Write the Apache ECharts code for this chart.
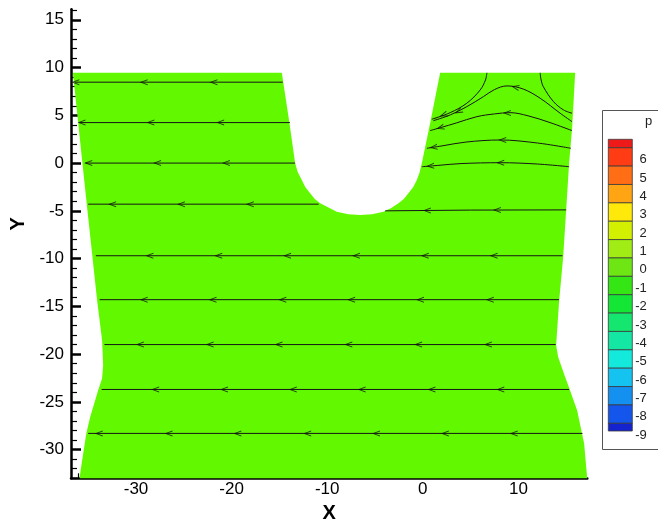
<!DOCTYPE html>
<html><head><meta charset="utf-8">
<script src="https://cdn.jsdelivr.net/npm/echarts@6/dist/echarts.min.js"></script>
<style>html,body{margin:0;padding:0;background:#fff}#c{width:658px;height:529px}</style>
</head><body><div id="c"></div>
<script>
// ---- axis ticks ----
const xMajorTicks = [-30, -20, -10, 0, 10];
const xMinorTicks = [-36,-34,-32,-28,-26,-24,-22,-18,-16,-14,-12,-8,-6,-4,-2,2,4,6,8,12,14,16];
const yMajorTicks = [-30, -25, -20, -15, -10, -5, 0, 5, 10, 15];
const yMinorTicks = [-33,-32,-31,-29,-28,-27,-26,-24,-23,-22,-21,-19,-18,-17,-16,-14,-13,-12,-11,-9,-8,-7,-6,-4,-3,-2,-1,1,2,3,4,6,7,8,9,11,12,13,14,16];

// ---- flow domain outline (x, y) ----
const fieldBoundary = [
  [-36.6, 9.45], [-14.75, 9.45], [-13.95, 4.17], [-13.36, 0], [-13.1, -0.9], [-12.66, -1.77],
  [-12.3, -2.5], [-11.79, -3.17], [-11.3, -3.75], [-10.74, -4.21], [-9.0, -5.09], [-7.8, -5.35],
  [-6.56, -5.44], [-5.3, -5.35], [-4.12, -5.09], [-3.3, -4.7], [-2.55, -4.21], [-2.0, -3.75],
  [-1.51, -3.17], [-1.0, -2.5], [-0.63, -1.77], [-0.35, -1.0], [-0.1, 0], [0.76, 4.17], [1.81, 9.45],
  [15.93, 9.45], [15.62, 3.78], [15.3, 0], [14.99, -4.9], [14.68, -9.8], [14.26, -14.35],
  [13.94, -19.07], [14.15, -20.3], [14.88, -22.4], [15.4, -23.8], [16.14, -25.9], [16.87, -29.35],
  [17.19, -33], [-35.9, -33], [-35.8, -32.2], [-35.2, -28.3], [-34.8, -26.6], [-33.97, -23.8],
  [-33.55, -22.54], [-33.44, -21.17], [-33.55, -18.55], [-34.07, -14.35], [-35.12, -4.6], [-35.64, 0.32]
];

// ---- streamlines ----
const streamRows = [
  [[-36.4, 8.47], [-14.65, 8.47]],
  [[-35.9, 4.24], [-13.9, 4.24]],
  [[-35.3, 0.0], [-13.36, 0.0]],
  [[-35.0, -4.3], [-10.9, -4.3]],
  [[-3.94, -5.0], [5, -4.92], [14.99, -4.9]],
  [[-34.2, -9.7], [14.6, -9.7]],
  [[-33.8, -14.3], [14.25, -14.3]],
  [[-33.3, -19.0], [13.9, -19.0]],
  [[-33.6, -23.7], [15.3, -23.7]],
  [[-35.0, -28.3], [16.7, -28.3]]
];
const streamCurves = [
  [[6.7, 9.45], [6.55, 8.7], [6.0, 7.66], [4.6, 6.27], [2.86, 5.28], [0.94, 4.59]],
  [[12.27, 9.45], [12.35, 8.8], [12.6, 8.0], [13.66, 6.44], [14.7, 5.57], [15.6, 5.22]],
  [[15.6, 4.34], [14.36, 5.22], [12.27, 6.79], [10.5, 7.75], [8.8, 8.08], [7.5, 7.7], [6.34, 6.96], [4.6, 5.91], [2.86, 5.04], [1.1, 4.44]],
  [[15.6, 3.4], [13.3, 4.24], [11.0, 4.95], [9.13, 5.28], [7.5, 5.15], [5.65, 4.86], [3.5, 4.2], [1.81, 3.7], [0.76, 3.4]],
  [[15.48, 1.55], [12.0, 2.1], [8.09, 2.42], [4.5, 2.2], [2.0, 1.8], [0.42, 1.55]],
  [[15.3, -0.38], [12.0, -0.1], [8.09, 0.04], [4.0, -0.05], [1.5, -0.25], [-0.1, -0.38]]
];
// arrowheads: x, y, rotation (deg)
const arrowHeads = [
  [-36.35, 8.47, 0], [-29.2, 8.47, 0], [-21.9, 8.47, 0],
  [-35.7, 4.24, 0], [-28.5, 4.24, 0], [-21.2, 4.24, 0],
  [-35.0, 0, 0], [-27.8, 0, 0], [-20.6, 0, 0],
  [-32.5, -4.3, 0], [-25.3, -4.3, 0], [-18.1, -4.3, 0],
  [0.42, -4.97, 0], [7.74, -4.91, 0],
  [-28.6, -9.7, 0], [-21.4, -9.7, 0], [-14.2, -9.7, 0], [-7.0, -9.7, 0], [0.2, -9.7, 0], [7.4, -9.7, 0],
  [-29.2, -14.3, 0], [-22.0, -14.3, 0], [-14.7, -14.3, 0], [-7.5, -14.3, 0], [-0.3, -14.3, 0], [7.0, -14.3, 0],
  [-29.6, -19.0, 0], [-22.3, -19.0, 0], [-15.1, -19.0, 0], [-7.8, -19.0, 0], [-0.5, -19.0, 0], [6.8, -19.0, 0],
  [-28.0, -23.7, 0], [-20.8, -23.7, 0], [-13.6, -23.7, 0], [-6.4, -23.7, 0], [0.9, -23.7, 0], [8.1, -23.7, 0],
  [-33.9, -28.3, 0], [-26.6, -28.3, 0], [-19.4, -28.3, 0], [-12.1, -28.3, 0], [-4.9, -28.3, 0], [2.3, -28.3, 0], [9.5, -28.3, 0],
  [2.15, 5.04, 20],
  [9.65, 7.95, -12], [3.72, 5.39, 27],
  [8.79, 5.25, 0], [1.81, 3.7, 16],
  [8.3, 2.42, 0], [1.1, 1.66, 8],
  [8.09, 0.04, 0], [0.76, -0.3, 3]
];

// ---- contour legend ----
const legendLabels = [6, 5, 4, 3, 2, 1, 0, -1, -2, -3, -4, -5, -6, -7, -8, -9];
const legendBands = [
  [6, 6.46], [5, 6], [4, 5], [3, 4], [2, 3], [1, 2], [0, 1], [-1, 0], [-2, -1],
  [-3, -2], [-4, -3], [-5, -4], [-6, -5], [-7, -6], [-8, -7], [-9, -8], [-9.42, -9]
];
const legendColors = [
  '#ee1a1a', '#ff3c14', '#ff6e14', '#ffa514', '#ffe90a', '#d2f000', '#a0ec14', '#6ee614', '#34e614',
  '#14e636', '#14e670', '#14e6a4', '#14eadc', '#14c3f0', '#1491f0', '#1455eb', '#1423cd'
];

const FONT = 'Liberation Sans, Arial, sans-serif';
const chart = echarts.init(document.getElementById('c'), null, {renderer: 'canvas'});

const series = [];
series.push({
  type: 'custom', xAxisIndex: 0, yAxisIndex: 0, data: fieldBoundary, silent: true, z: 1,
  renderItem: function (params, api) {
    if (params.dataIndex !== 0) return;
    const pts = fieldBoundary.map(p => api.coord(p));
    return {type: 'polygon', shape: {points: pts}, style: {fill: '#62f900', stroke: null}};
  }
});
streamRows.concat(streamCurves).forEach(function (ln, i) {
  series.push({
    type: 'line', xAxisIndex: 0, yAxisIndex: 0, data: ln, showSymbol: false, silent: true, z: 3,
    smooth: i >= streamRows.length ? 0.35 : false,
    lineStyle: {color: '#151515', width: 1}
  });
});
series.push({
  type: 'scatter', xAxisIndex: 0, yAxisIndex: 0, silent: true, z: 4,
  symbol: 'path://M10,0L0,5L10,10L10,8.3L3,5L10,1.7Z',
  symbolSize: [8, 6],
  itemStyle: {color: '#111'},
  data: arrowHeads.map(a => ({value: [a[0], a[1]], symbolRotate: a[2]}))
});
series.push({
  type: 'custom', xAxisIndex: 2, yAxisIndex: 2, data: legendBands, silent: true, z: 2,
  renderItem: function (params, api) {
    const b = legendBands[params.dataIndex];
    const p1 = api.coord([0, b[1]]);
    const p2 = api.coord([1, b[0]]);
    return {type: 'rect', shape: {x: p1[0], y: p1[1], width: p2[0] - p1[0], height: p2[1] - p1[1]},
      style: {fill: legendColors[params.dataIndex], stroke: '#3a3a3a', lineWidth: 0.8}};
  }
});

const option = {
  backgroundColor: '#ffffff',
  animation: false,
  title: {text: 'p', left: 645, top: 115, padding: 0,
    textStyle: {fontSize: 13, fontWeight: 'normal', fontFamily: FONT, color: '#222'}},
  graphic: [{type: 'rect', z: 0, shape: {x: 602.5, y: 110.5, width: 60, height: 339},
    style: {fill: '#fff', stroke: '#555', lineWidth: 1}}],
  grid: [
    {left: 71, top: 9.3, width: 516.3, height: 469},
    {left: 608.3, top: 139.3, width: 24, height: 291.7},
    {left: 608.3, top: 139.3, width: 24, height: 310}
  ],
  xAxis: [
    {type: 'value', gridIndex: 0, min: -36.8, max: 17.2, position: 'bottom',
      axisLine: {show: true, onZero: false, lineStyle: {color: '#000', width: 2.5}},
      axisTick: {show: true, inside: true, length: 9, customValues: xMajorTicks, lineStyle: {color: '#000', width: 2.5}},
      axisLabel: {customValues: xMajorTicks, fontSize: 17, color: '#000', margin: 3, fontFamily: FONT},
      splitLine: {show: false},
      name: 'X', nameLocation: 'middle', nameGap: 23,
      nameTextStyle: {fontSize: 20, fontWeight: 'bold', color: '#000', fontFamily: FONT}},
    {type: 'value', gridIndex: 0, min: -36.8, max: 17.2, position: 'bottom',
      axisLine: {show: false, onZero: false},
      axisTick: {show: true, inside: true, length: 5, customValues: xMinorTicks, lineStyle: {color: '#000', width: 1.2}},
      axisLabel: {show: false}, splitLine: {show: false}},
    {type: 'value', gridIndex: 1, min: 0, max: 1, show: false},
    {type: 'value', gridIndex: 2, min: 0, max: 1, show: false}
  ],
  yAxis: [
    {type: 'value', gridIndex: 0, min: -33, max: 16.1, position: 'left',
      axisLine: {show: true, onZero: false, lineStyle: {color: '#000', width: 2.5}},
      axisTick: {show: true, inside: true, length: 10, customValues: yMajorTicks, lineStyle: {color: '#000', width: 2.5}},
      axisLabel: {customValues: yMajorTicks, fontSize: 17, color: '#000', margin: 7, fontFamily: FONT},
      splitLine: {show: false},
      name: 'Y', nameLocation: 'middle', nameGap: 42,
      nameTextStyle: {fontSize: 20, fontWeight: 'bold', color: '#000', fontFamily: FONT, padding: [0, 0, 0, 40]}},
    {type: 'value', gridIndex: 0, min: -33, max: 16.1, position: 'left',
      axisLine: {show: false, onZero: false},
      axisTick: {show: true, inside: true, length: 6, customValues: yMinorTicks, lineStyle: {color: '#000', width: 1.2}},
      axisLabel: {show: false}, splitLine: {show: false}},
    {type: 'value', gridIndex: 1, min: -9.42, max: 6.46, position: 'right', show: false},
    {type: 'value', gridIndex: 2, min: -9.77, max: 7.105, position: 'right',
      axisLine: {show: false}, axisTick: {show: false}, splitLine: {show: false},
      axisLabel: {customValues: legendLabels, align: 'right', margin: 14.5, verticalAlign: 'middle',
        showMinLabel: true, showMaxLabel: true, hideOverlap: false,
        fontSize: 13, color: '#222', fontFamily: FONT}}
  ],
  series: series
};
chart.setOption(option);
</script>
</body></html>
